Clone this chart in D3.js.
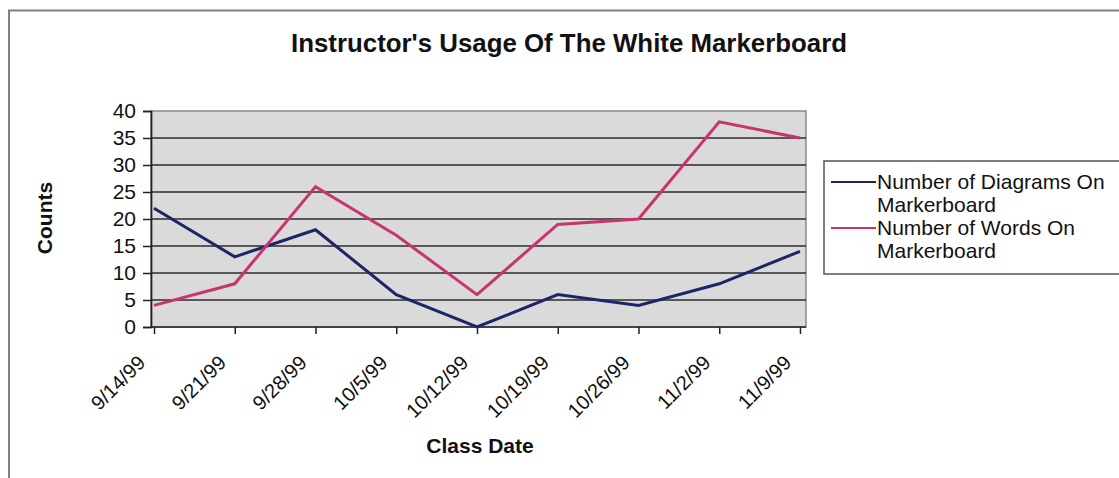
<!DOCTYPE html>
<html>
<head>
<meta charset="utf-8">
<script src="https://cdn.jsdelivr.net/npm/d3@7"></script>
<style>
  body { margin: 0; background: #fff; }
  svg { display: block; }
  text { font-family: "Liberation Sans", Arial, sans-serif; fill: #111; }
</style>
</head>
<body>
<svg id="chart" width="1119" height="478"></svg>
<script>
const title = "Instructor's Usage Of The White Markerboard";
const categories = ["9/14/99","9/21/99","9/28/99","10/5/99","10/12/99","10/19/99","10/26/99","11/2/99","11/9/99"];
const diagrams = [22, 13, 18, 6, 0, 6, 4, 8, 14];
const words = [4, 8, 26, 17, 6, 19, 20, 38, 35];
const yTicks = [0, 5, 10, 15, 20, 25, 30, 35, 40];
const seriesNames = ["Number of Diagrams On Markerboard", "Number of Words On Markerboard"];
const seriesColors = ["#1d2468", "#c7346f"];

const svg = d3.select("#chart");
const W = 1119, H = 478;
const plot = { left: 151, right: 806, top: 111, bottom: 327 };

// outer frame
svg.append("path")
  .attr("d", `M9,${H} L9,10.5 L${W},10.5`)
  .attr("fill", "none").attr("stroke", "#808080").attr("stroke-width", 2);

// title
svg.append("text")
  .attr("x", 569).attr("y", 52)
  .attr("text-anchor", "middle")
  .attr("font-size", 25).attr("font-weight", "bold")
  .attr("textLength", 556).attr("lengthAdjust", "spacingAndGlyphs")
  .text(title);

const x = d3.scalePoint().domain(categories).range([154, 800]);
const y = d3.scaleLinear().domain([0, 40]).range([plot.bottom, plot.top]);

// plot background
svg.append("rect")
  .attr("x", plot.left).attr("y", plot.top)
  .attr("width", plot.right - plot.left).attr("height", plot.bottom - plot.top)
  .attr("fill", "#dadada").attr("stroke", "#8a8a8a").attr("stroke-width", 1.5);

// gridlines
svg.append("g").selectAll("line")
  .data(yTicks.filter(d => d > 0 && d < 40))
  .join("line")
  .attr("x1", plot.left).attr("x2", plot.right)
  .attr("y1", d => y(d)).attr("y2", d => y(d))
  .attr("stroke", "#2b2b2b").attr("stroke-width", 1.7);

// y axis
const yAxis = svg.append("g")
  .attr("transform", `translate(${plot.left},0)`)
  .call(d3.axisLeft(y).tickValues(yTicks).tickSize(8).tickPadding(7).tickFormat(d3.format("d")));
yAxis.select(".domain").attr("stroke", "#222").attr("stroke-width", 1.7);
yAxis.selectAll(".tick line").attr("stroke", "#222").attr("stroke-width", 1.5);
yAxis.selectAll(".tick text")
  .attr("font-size", 21).attr("fill", "#111")
  .style("font-family", "'Liberation Sans', Arial, sans-serif");

// x axis
const xAxis = svg.append("g")
  .attr("transform", `translate(0,${plot.bottom})`)
  .call(d3.axisBottom(x).tickSize(7).tickSizeOuter(0));
xAxis.select(".domain").attr("d", `M${plot.left},0H${plot.right}`)
  .attr("stroke", "#222").attr("stroke-width", 1.7);
xAxis.selectAll(".tick line").attr("stroke", "#222").attr("stroke-width", 1.5);
xAxis.selectAll(".tick text")
  .attr("font-size", 20).attr("fill", "#111")
  .style("font-family", "'Liberation Sans', Arial, sans-serif")
  .attr("text-anchor", "end")
  .attr("dy", 0)
  .attr("y", 0)
  .attr("transform", "translate(-8,37) rotate(-45)");

// lines
const line = d3.line().x((d, i) => x(categories[i])).y(d => y(d));
[diagrams, words].forEach((s, k) => {
  svg.append("path")
    .datum(s)
    .attr("d", line)
    .attr("fill", "none")
    .attr("stroke", seriesColors[k])
    .attr("stroke-width", 3)
    .attr("stroke-linejoin", "miter");
});

// axis titles
svg.append("text")
  .attr("transform", "translate(52,218) rotate(-90)")
  .attr("text-anchor", "middle")
  .attr("font-size", 21).attr("font-weight", "bold")
  .text("Counts");

svg.append("text")
  .attr("x", 480).attr("y", 453)
  .attr("text-anchor", "middle")
  .attr("font-size", 21).attr("font-weight", "bold")
  .text("Class Date");

// legend
const lg = svg.append("g");
lg.append("rect")
  .attr("x", 824).attr("y", 161)
  .attr("width", 300).attr("height", 113)
  .attr("fill", "#fff").attr("stroke", "#555").attr("stroke-width", 1.5);
const legendLines = [["Number of Diagrams On", "Markerboard"], ["Number of Words On", "Markerboard"]];
const baseY = [189, 235];
legendLines.forEach((lines, k) => {
  lg.append("line")
    .attr("x1", 831).attr("x2", 876)
    .attr("y1", baseY[k] - 7).attr("y2", baseY[k] - 7)
    .attr("stroke", seriesColors[k]).attr("stroke-width", 2);
  lines.forEach((t, j) => {
    lg.append("text")
      .attr("x", 877).attr("y", baseY[k] + j * 22.5)
      .attr("font-size", 21)
      .text(t);
  });
});
</script>
</body>
</html>
